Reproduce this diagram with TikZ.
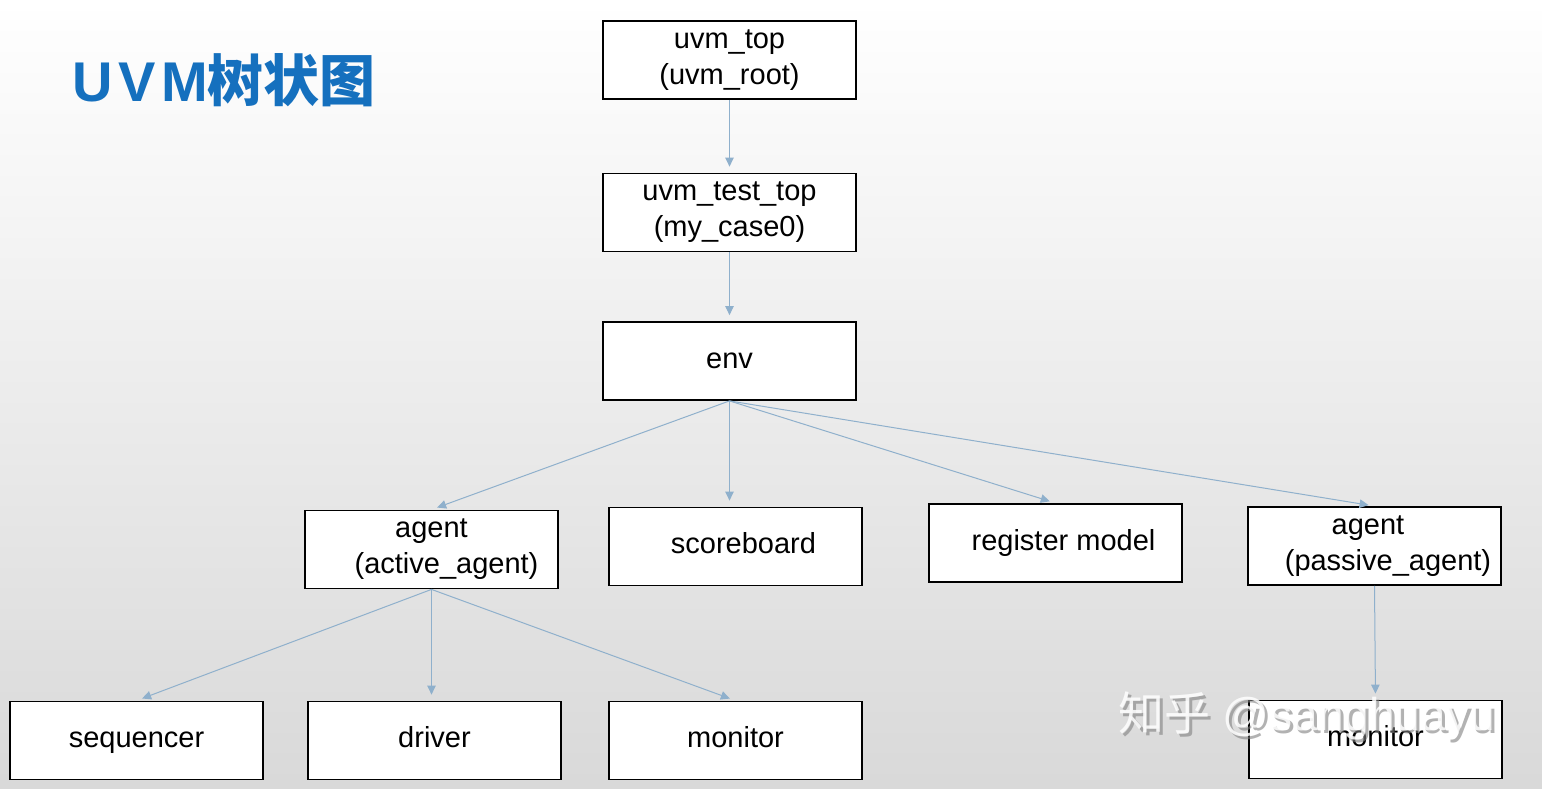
\documentclass[tikz,border=0pt]{standalone}
\usepackage{fontspec}
\setmainfont{Liberation Sans}
\newfontfamily\cjk{Noto Sans CJK SC}
\newfontfamily\spaced[LetterSpace=10]{Liberation Sans}
\usetikzlibrary{arrows.meta}
\definecolor{titleblue}{RGB}{21,112,190}
\definecolor{linkblue}{RGB}{143,176,204}
\tikzset{
  box/.style={draw=black, line width=1.8pt, fill=white, minimum width=253pt, minimum height=78pt,
    inner sep=0pt, align=center, font=\fontsize{29}{36}\selectfont},
  onebox/.style={box, execute at begin node=\strut},
  link/.style={draw=linkblue, line width=1pt, -{Triangle[length=9pt,width=8.5pt]}, shorten >=6pt},
}

\begin{document}
\begin{tikzpicture}[x=1pt,y=-1pt]
\useasboundingbox (0,0) rectangle (1542,789);

%Background
\shade [top color=white, middle color=white!95!black, bottom color=white!85!black] (0,0) rectangle (1542,789);

% Title
\node [anchor=base west, inner sep=0pt, text=titleblue, font=\fontsize{56}{60}\selectfont] (title) at (72,102)
  {{\spaced\bfseries UVM}{\cjk\bfseries 树状图}};

%Shape: Boxes
\node [box] (root) at (729.5,60) {uvm\_top\\(uvm\_root)};
\node [box] (test) at (729.5,212.5) {uvm\_test\_top\\(my\_case0)};
\node [onebox] (env) at (729.5,361) {env};
\node [box] (agentA) at (431.5,549.5) {agent\\\hspace*{30pt}(active\_agent)};
\node [onebox] (score) at (735.5,546.5) {\hspace*{16pt}scoreboard};
\node [onebox] (regm) at (1055.5,543) {\hspace*{16pt}register model};
\node [box] (agentP) at (1374.5,546) {agent\hspace*{13pt}\\\hspace*{27pt}(passive\_agent)};
\node [onebox] (seqr) at (136.5,740.5) {sequencer};
\node [onebox] (drv) at (434.5,740.5) {driver};
\node [onebox] (monA) at (735.5,740.5) {monitor};
\node [onebox] (monP) at (1375.5,739.5) {monitor};

%Straight Lines
\draw [link] (root.south) -- (test.north);
\draw [link] (test.south) -- (env.north);
\draw [link] (env.south) -- (agentA.north);
\draw [link] (env.south) -- (score.north -| env.south);
\draw [link] (env.south) -- (regm.north);
\draw [link] (env.south) -- (agentP.north);
\draw [link] (agentA.south) -- (seqr.north);
\draw [link] (agentA.south) -- (drv.north -| agentA.south);
\draw [link] (agentA.south) -- (monA.north);
\draw [link] (agentP.south) -- (monP.north);

% Text Node
\node [anchor=base west, inner sep=0pt, text=gray, opacity=0.6, font=\fontsize{46}{50}\selectfont] (markshadow) at (1121,733)
  {{\cjk 知乎} @sanghuayu};
\node [anchor=base west, inner sep=0pt, text=white, opacity=0.85, font=\fontsize{46}{50}\selectfont] (mark) at (1118,730)
  {{\cjk 知乎} @sanghuayu};

\end{tikzpicture}
\end{document}
